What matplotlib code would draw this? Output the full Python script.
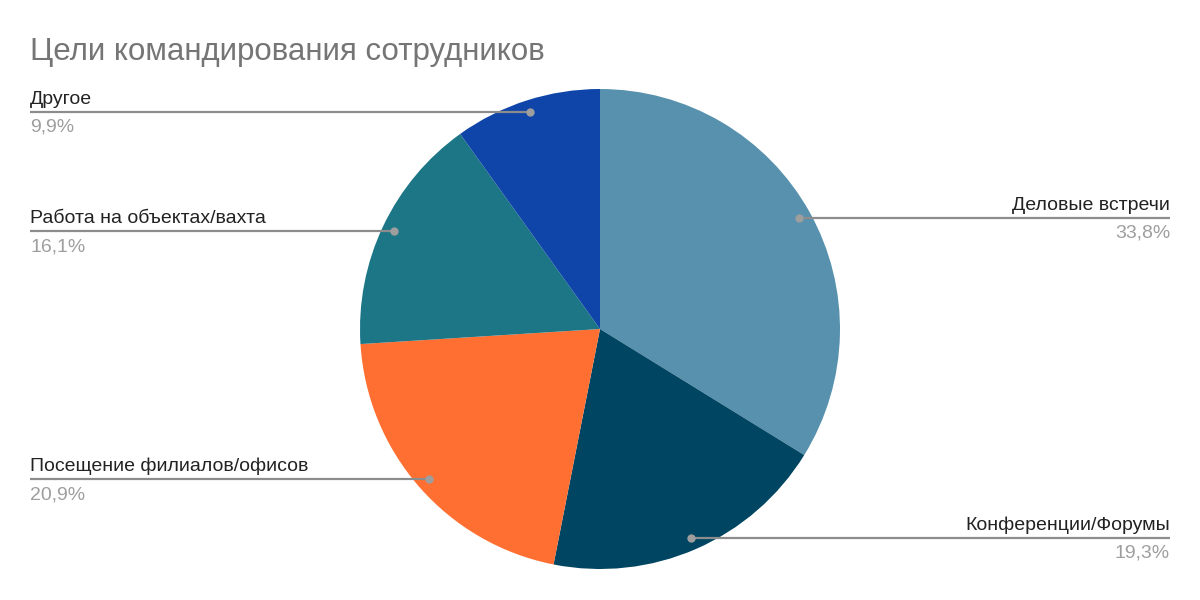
import numpy as np
import matplotlib.pyplot as plt

plt.rcParams['font.family'] = ['Liberation Sans', 'DejaVu Sans']

TITLE = "Цели командирования сотрудников"
categories = ["Деловые встречи", "Конференции/Форумы", "Посещение филиалов/офисов",
              "Работа на объектах/вахта", "Другое"]
shares = [33.8, 19.3, 20.9, 16.1, 9.9]
pct_labels = ["33,8%", "19,3%", "20,9%", "16,1%", "9,9%"]
colors = ["#5891ad", "#004561", "#ff6f31", "#1c7685", "#0f45a8"]

W, H = 1200, 600
CX, CY, R = 600, H - 329, 240
LEFT_X, RIGHT_X = 30, 1170


def main():
    fig = plt.figure(figsize=(12, 6), dpi=100)
    ax = fig.add_axes([0, 0, 1, 1])
    wedges, _ = ax.pie(shares, colors=colors, startangle=90, counterclock=False,
                       center=(CX, CY), radius=R, frame=True,
                       wedgeprops=dict(linewidth=0))
    ax.set_xlim(0, W)
    ax.set_ylim(0, H)
    ax.set_aspect('equal')
    ax.axis('off')

    fig.text(LEFT_X / W, 1 - 52 / H, TITLE, fontsize=22.5, color="#757575",
             ha="left", va="center")

    for w, name, pct in zip(wedges, categories, pct_labels):
        mid = np.deg2rad((w.theta1 + w.theta2) / 2)
        px = CX + 0.95 * R * np.cos(mid)
        py = CY + 0.95 * R * np.sin(mid)
        right = np.cos(mid) > 0
        end_x = RIGHT_X if right else LEFT_X
        ax.plot([px, end_x], [py, py], color="#8c8c8c", lw=1.6,
                solid_capstyle="butt", zorder=3)
        ax.plot(px, py, "o", color="#9e9e9e", ms=5, zorder=4)
        ha = "right" if right else "left"
        ax.text(end_x, py + 4, name, ha=ha, va="bottom", fontsize=14,
                color="#222222")
        ax.text(end_x, py - 7, pct, ha=ha, va="top", fontsize=14,
                color="#9e9e9e")

    fig.savefig("out.png", dpi=100, facecolor="white")


if __name__ == "__main__":
    main()
